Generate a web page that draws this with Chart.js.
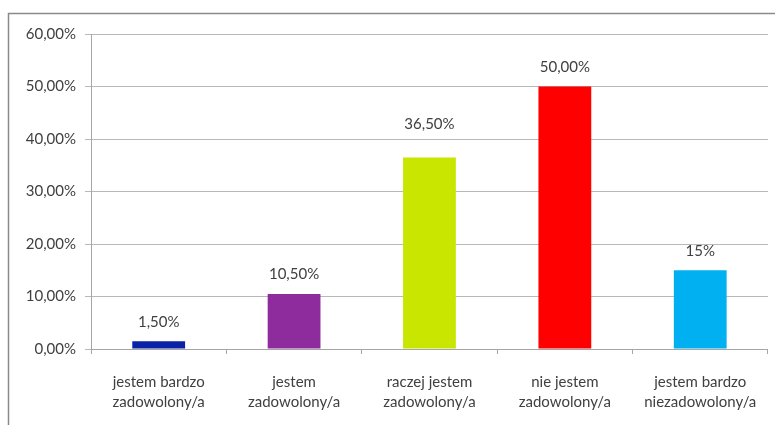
<!DOCTYPE html>
<html>
<head>
<meta charset="utf-8">
<script src="https://cdn.jsdelivr.net/npm/chart.js@4"></script>
<style>
  html, body { margin: 0; padding: 0; background: #fff; }
  #wrap { width: 775px; height: 425px; position: relative; }
</style>
</head>
<body>
<div id="wrap"><canvas id="chart"></canvas></div>
<script>
// dane z wykresu
const categories = [
    ['jestem bardzo', 'zadowolony/a'],
    ['jestem', 'zadowolony/a'],
    ['raczej jestem', 'zadowolony/a'],
    ['nie jestem', 'zadowolony/a'],
    ['jestem bardzo', 'niezadowolony/a'],
];
const values = [1.5, 10.5, 36.5, 50, 15];
const valueLabels = ['1,50%', '10,50%', '36,50%', '50,00%', '15%'];
const barColors = ['#0A22A6', '#8E2C9E', '#C8E600', '#FF0000', '#00B0F0'];

const textColor = '#404040';
const fontFamily = 'Lato, "Open Sans", sans-serif';

// ramka wokół wykresu
const framePlugin = {
    id: 'frame',
    beforeDraw(chart) {
        const ctx = chart.ctx;
        ctx.save();
        ctx.strokeStyle = '#8a8a8a';
        ctx.lineWidth = 1.5;
        ctx.beginPath();
        ctx.moveTo(8.5, 425);
        ctx.lineTo(8.5, 13.5);
        ctx.lineTo(775, 13.5);
        ctx.stroke();
        ctx.restore();
    }
};

// etykiety nad słupkami (trzecia przesunięta wyżej jak w oryginale)
const valueLabelPlugin = {
    id: 'valueLabels',
    afterDatasetsDraw(chart, args, opts) {
        const ctx = chart.ctx;
        const meta = chart.getDatasetMeta(0);
        ctx.save();
        ctx.fillStyle = textColor;
        ctx.font = '15px ' + fontFamily;
        ctx.textAlign = 'center';
        ctx.textBaseline = 'middle';
        meta.data.forEach((bar, i) => {
            ctx.fillText(valueLabels[i], bar.x, bar.y - opts.gaps[i]);
        });
        ctx.restore();
    }
};

new Chart(document.getElementById('chart'), {
    type: 'bar',
    data: {
        labels: categories,
        datasets: [{
            data: values,
            backgroundColor: barColors,
            barPercentage: 0.39,
            categoryPercentage: 1,
        }],
    },
    options: {
        responsive: true,
        maintainAspectRatio: false,
        animation: false,
        layout: { padding: { top: 34, right: 7, left: 0, bottom: 0 } },
        plugins: {
            legend: { display: false },
            tooltip: { enabled: false },
            valueLabels: { gaps: [19, 20, 33, 19, 19] },
        },
        scales: {
            x: {
                offset: true,
                grid: {
                    offset: true,
                    drawOnChartArea: false,
                    drawTicks: true,
                    tickLength: 5,
                    color: '#a6a6a6',
                },
                border: { color: '#a6a6a6' },
                ticks: {
                    color: textColor,
                    font: { family: fontFamily, size: 15, lineHeight: 1.35 },
                    padding: 18,
                    maxRotation: 0,
                },
                afterFit(scale) { scale.height = 76; },
            },
            y: {
                min: 0,
                max: 60,
                grid: {
                    color: '#b8b8b8',
                    tickLength: 6,
                },
                border: { color: '#a6a6a6' },
                ticks: {
                    stepSize: 10,
                    color: textColor,
                    font: { family: fontFamily, size: 15 },
                    padding: 9,
                    callback: v => v.toFixed(2).replace('.', ',') + '%',
                },
                afterFit(scale) { scale.width = 91; },
            },
        },
    },
    plugins: [framePlugin, valueLabelPlugin],
});
</script>
</body>
</html>
